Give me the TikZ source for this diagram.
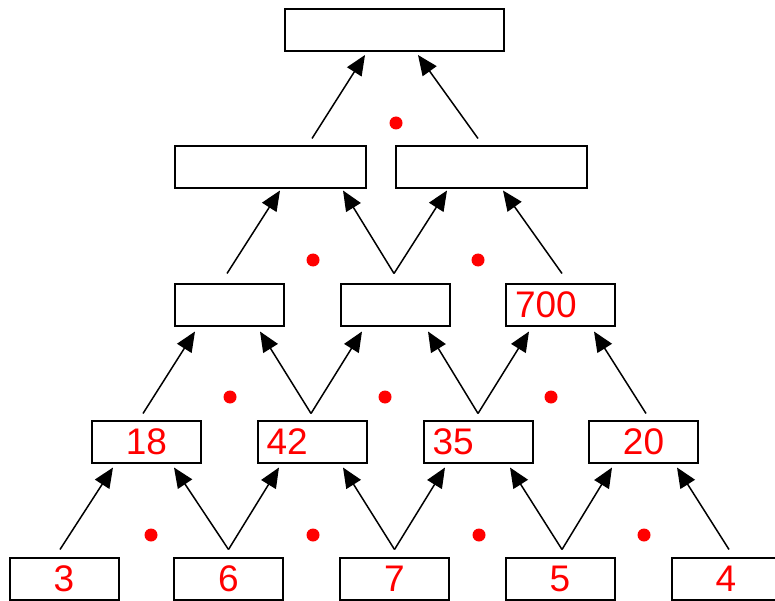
\documentclass[tikz,border=0pt]{standalone}
\usepackage{fontspec}
\setmainfont{Liberation Sans}
\usetikzlibrary{arrows.meta}
\begin{document}
\begin{tikzpicture}[x=1pt,y=-1pt]
	\tikzstyle{block} = [draw,line width=2pt,minimum height=42pt,inner xsep=9pt,text width=91pt,align=center,text=red,font=\fontsize{37}{40}\selectfont]
	\tikzstyle{lblock} = [block,align=left]
	\tikzstyle{arrow} = [-{Triangle[length=20pt,width=17pt]},line width=1.5pt]
	\useasboundingbox (0,0) rectangle (775,601);
	% bottom row
	\node[block](b3)at(64,578.5){3};
	\node[block](b6)at(228.5,578.5){6};
	\node[block](b7)at(394.5,578.5){7};
	\node[block](b5)at(560,578.5){5};
	\node[block](b4)at(726,578.5){4};
	% products
	\node[block](n18)at(146.5,441.5){18};
	\node[lblock](n42)at(312,441.5){42};
	\node[lblock](n35)at(478,441.5){35};
	\node[block](n20)at(643.5,441.5){20};
	\node[block](r1)at(229,304.5){};
	\node[block](r2)at(395,304.5){};
	\node[lblock](n700)at(560.5,304.5){700};
	\node[block,minimum width=191pt](q1)at(270.5,167.5){};
	\node[block,minimum width=191pt](q2)at(491.5,167.5){};
	\node[block,minimum width=219pt](top)at(394.5,30){};
	% arrows
	\path[arrow] ([xshift=-4pt,yshift=7pt]b3.north) edge ([xshift=-33.5pt,yshift=-4pt]n18.south)
	([yshift=7pt]b6.north) edge ([xshift=27.5pt,yshift=-4pt]n18.south)
	([yshift=7pt]b6.north) edge ([xshift=-33pt,yshift=-4pt]n42.south)
	([yshift=7pt]b7.north) edge ([xshift=31pt,yshift=-4pt]n42.south)
	([yshift=7pt]b7.north) edge ([xshift=-33pt,yshift=-4pt]n35.south)
	([xshift=2pt,yshift=7pt]b5.north) edge ([xshift=32pt,yshift=-4pt]n35.south)
	([xshift=2pt,yshift=7pt]b5.north) edge ([xshift=-31.5pt,yshift=-4pt]n20.south)
	([xshift=3pt,yshift=7pt]b4.north) edge ([xshift=33.5pt,yshift=-4pt]n20.south);
	\path[arrow] ([xshift=-3.5pt,yshift=6pt]n18.north) edge ([xshift=-34pt,yshift=-5pt]r1.south)
	([xshift=-1pt,yshift=6pt]n42.north) edge ([xshift=31pt,yshift=-5pt]r1.south)
	([xshift=-1pt,yshift=6pt]n42.north) edge ([xshift=-33pt,yshift=-5pt]r2.south)
	([yshift=6pt]n35.north) edge ([xshift=33pt,yshift=-5pt]r2.south)
	([yshift=6pt]n35.north) edge ([xshift=-31.5pt,yshift=-5pt]n700.south)
	([xshift=2.5pt,yshift=6pt]n20.north) edge ([xshift=33.5pt,yshift=-5pt]n700.south);
	\path[arrow] ([xshift=-2pt,yshift=9pt]r1.north) edge ([xshift=9.5pt,yshift=-1pt]q1.south)
	([xshift=-1pt,yshift=9pt]r2.north) edge ([xshift=72.5pt,yshift=-1pt]q1.south)
	([xshift=-1pt,yshift=9pt]r2.north) edge ([xshift=-44.5pt,yshift=-1pt]q2.south)
	([xshift=1.5pt,yshift=9pt]n700.north) edge ([xshift=11.5pt,yshift=-1pt]q2.south);
	\path[arrow] ([xshift=41.5pt,yshift=7pt]q1.north) edge ([xshift=-29.5pt,yshift=-3pt]top.south)
	([xshift=-13.5pt,yshift=7pt]q2.north) edge ([xshift=23.5pt,yshift=-3pt]top.south);
	% dots
	\fill[red] (151,535) circle (6.5pt) (313,535) circle (6.5pt) (479,535) circle (6.5pt) (644,535) circle (6.5pt)
	(230,397) circle (6.5pt) (385,397) circle (6.5pt) (551,397) circle (6.5pt)
	(313,260) circle (6.5pt) (478,260) circle (6.5pt) (396,123) circle (6.5pt);
\end{tikzpicture}
\end{document}
